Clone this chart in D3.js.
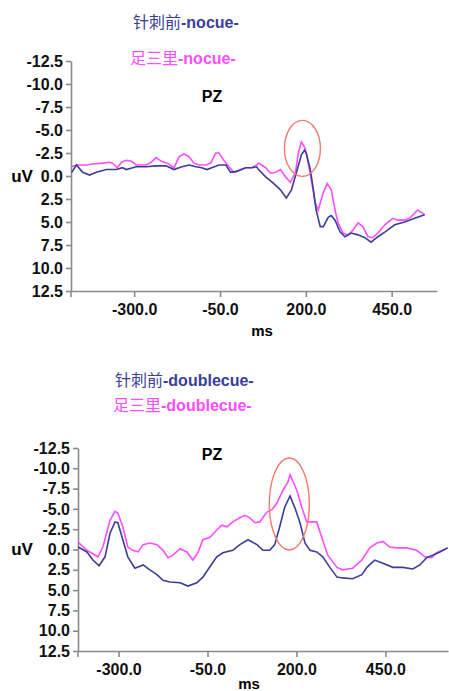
<!DOCTYPE html>
<html>
<head>
<meta charset="utf-8">
<script src="https://cdn.jsdelivr.net/npm/d3@7"></script>
<style>
  body { margin: 0; background: #fff; }
  text { font-family: "Liberation Sans", Arial, sans-serif; }
</style>
</head>
<body>
<div id="chart"></div>
<script>
var svgWidth = 449;
var svgHeight = 691;

// tick values
var yTicks = [-12.5, -10.0, -7.5, -5.0, -2.5, 0.0, 2.5, 5.0, 7.5, 10.0, 12.5];
var xTicks = [-300, -50, 200, 450];

// nocue: [ms, uV]
var nocueBlue = [[-482,-0.4],[-468,-1.2],[-450,-0.4],[-430,-0.1],[-410,-0.4],[-381,-0.7],[-352,-0.7],[-334,-0.9],
  [-323,-0.7],[-294,-1.0],[-265,-1.0],[-236,-1.1],[-207,-1.1],[-184,-0.7],[-161,-1.0],[-140,-1.2],[-120,-1.0],
  [-103,-0.9],[-88,-0.7],[-74,-0.9],[-53,-1.2],[-33,-1.2],[-19,-0.4],[-1,-0.5],[25,-0.9],[42,-0.9],[57,-1.0],
  [62,-0.7],[83,0.1],[106,0.8],[126,1.5],[143,2.4],[158,1.5],[172,-0.3],[187,-2.3],[196,-2.8],[201,-2.5],
  [213,-0.7],[222,1.5],[230,3.7],[242,5.5],[251,5.5],[265,4.5],[274,4.3],[285,4.8],[300,6.1],[314,6.6],
  [332,6.2],[352,6.4],[372,6.7],[390,7.2],[410,6.6],[430,6.1],[459,5.3],[488,5.0],[517,4.6],[546,4.2]];
var nocuePink = [[-482,-1.0],[-468,-1.2],[-439,-1.2],[-421,-1.3],[-392,-1.4],[-372,-1.5],[-363,-1.4],[-349,-0.9],
  [-337,-1.5],[-323,-1.7],[-308,-1.6],[-294,-1.2],[-265,-1.2],[-250,-1.5],[-236,-2.0],[-221,-1.6],[-204,-1.4],
  [-184,-0.9],[-169,-2.1],[-155,-2.4],[-140,-2.1],[-126,-1.4],[-111,-1.2],[-91,-1.2],[-77,-1.4],[-62,-2.5],
  [-53,-2.5],[-39,-1.7],[-24,-1.0],[-10,-0.4],[10,-0.7],[25,-0.9],[42,-0.9],[57,-1.2],[62,-1.4],[83,-0.9],
  [97,-0.3],[112,-0.4],[126,-0.7],[141,0.1],[155,0.7],[170,-0.4],[178,-2.5],[187,-3.7],[198,-3.0],[207,-1.4],
  [216,0.4],[227,2.9],[236,3.7],[251,1.8],[262,0.8],[274,1.5],[285,3.7],[294,5.1],[308,6.2],[323,6.4],
  [337,5.9],[352,5.1],[366,5.5],[381,6.6],[395,6.7],[410,6.2],[430,5.3],[453,4.6],[468,4.8],[488,4.8],
  [505,4.5],[526,3.7],[534,3.9],[546,4.2]];

// doublecue: [ms, uV]
var doubleBlue = [[-414,-0.3],[-389,0.3],[-372,1.3],[-355,2.0],[-338,0.9],[-324,-2.0],[-310,-3.4],[-302,-3.3],
  [-288,-1.2],[-274,0.9],[-254,2.3],[-231,1.9],[-212,2.5],[-192,3.1],[-175,3.8],[-156,4.0],[-127,4.1],
  [-105,4.5],[-80,4.1],[-63,3.4],[-49,2.5],[-24,0.9],[-7,0.4],[21,0.1],[41,-0.6],[64,-1.2],[89,-0.6],
  [106,0.1],[125,0.1],[139,-0.6],[153,-2.8],[167,-5.2],[182,-6.6],[196,-5.1],[210,-3.3],[224,-0.8],
  [238,0.1],[257,0.3],[274,0.9],[294,2.2],[314,3.4],[330,3.5],[358,3.6],[384,3.1],[398,2.2],[420,1.3],
  [443,1.7],[471,2.2],[499,2.2],[527,2.4],[547,1.9],[566,1.0],[583,0.7],[603,0.3],[625,-0.2]];
var doublePink = [[-414,-0.9],[-389,0.1],[-358,0.9],[-344,-0.3],[-324,-3.6],[-310,-4.7],[-302,-4.5],[-288,-2.8],
  [-274,-0.3],[-260,0.1],[-245,0.3],[-231,-0.6],[-212,-0.8],[-192,-0.6],[-175,0.1],[-161,1.0],[-147,0.7],
  [-127,-0.1],[-108,0.3],[-91,1.3],[-77,0.4],[-63,-1.2],[-43,-1.5],[-24,-2.4],[-10,-3.0],[5,-2.8],[21,-3.4],
  [41,-3.9],[55,-4.2],[69,-3.9],[83,-3.3],[97,-3.4],[117,-4.6],[131,-4.9],[145,-5.7],[162,-7.3],[176,-8.3],
  [182,-9.2],[201,-7.3],[215,-5.2],[229,-3.4],[243,-3.4],[257,-3.4],[271,-1.5],[288,0.7],[314,2.2],
  [330,2.5],[358,2.3],[384,1.3],[406,-0.2],[426,-0.8],[443,-1.0],[462,-0.3],[482,-0.2],[510,-0.2],
  [538,0.1],[561,0.9],[580,1.0],[594,0.4],[611,0.1],[625,-0.2]];

var blueColor = "#3b3d98";
var pinkColor = "#ff4dff";
var axisColor = "#8a8a8a";

// plain hyphen for negatives, like the original
var fmt = d3.formatLocale({decimal: ".", thousands: ",", grouping: [3], currency: ["", ""], minus: "-"}).format(".1f");

var svg = d3.select("#chart")
  .append("svg")
  .attr("width", svgWidth)
  .attr("height", svgHeight);

function drawPanel(p) {
  var x = d3.scaleLinear().domain(p.xDomain).range(p.xRange);
  var y = d3.scaleLinear().domain([-12.5, 12.5]).range(p.yRange);

  // legend
  var leg = [[p.blueLabel, blueColor, p.leg1], [p.pinkLabel, pinkColor, p.leg2]];
  leg.forEach(function (l) {
    var t = svg.append("text")
      .attr("x", l[2][0]).attr("y", l[2][1])
      .attr("fill", l[1])
      .style("font-size", "16px");
    t.append("tspan").style("font-family", "'Noto Sans CJK SC', sans-serif").text(l[0]);
    t.append("tspan").style("font-weight", "bold").text(p.suffix);
  });

  svg.append("text")
    .attr("x", p.pz[0]).attr("y", p.pz[1])
    .attr("text-anchor", "middle")
    .style("font-size", "16px").style("font-weight", "bold")
    .text("PZ");

  // y axis
  var yAxis = svg.append("g")
    .attr("transform", `translate(${p.xRange[0]},0)`)
    .call(d3.axisLeft(y).tickValues(yTicks).tickFormat(fmt).tickSize(5).tickSizeOuter(0).tickPadding(3));

  // x axis
  var xAxis = svg.append("g")
    .attr("transform", `translate(0,${p.yRange[1]})`)
    .call(d3.axisBottom(x).tickValues(xTicks).tickFormat(fmt).tickSize(6).tickSizeOuter(0).tickPadding(7));

  [yAxis, xAxis].forEach(function (a) {
    a.select(".domain").attr("stroke", axisColor).attr("stroke-width", 1.6);
    a.selectAll(".tick line").attr("stroke", axisColor).attr("stroke-width", 1.6);
    a.selectAll(".tick text")
      .attr("fill", "#111")
      .style("font-size", "16px").style("font-weight", "bold")
      .style("font-family", "'Liberation Sans', Arial, sans-serif");
  });
  // axis corner stub below origin
  svg.append("line")
    .attr("x1", p.xRange[0]).attr("x2", p.xRange[0])
    .attr("y1", p.yRange[1]).attr("y2", p.yRange[1] + 6)
    .attr("stroke", axisColor).attr("stroke-width", 1.6);

  svg.append("text")
    .attr("x", 22).attr("y", y(0)).attr("dy", "0.35em")
    .attr("text-anchor", "middle")
    .style("font-size", "17px").style("font-weight", "bold")
    .text("uV");

  svg.append("text")
    .attr("x", p.ms[0]).attr("y", p.ms[1])
    .attr("text-anchor", "middle")
    .style("font-size", "15px").style("font-weight", "bold")
    .text("ms");

  var line = d3.line()
    .x(d => x(d[0]))
    .y(d => y(d[1]));

  svg.append("path")
    .datum(p.pink)
    .attr("d", line)
    .attr("fill", "none")
    .attr("stroke", pinkColor)
    .attr("stroke-width", 1.6);

  svg.append("path")
    .datum(p.blue)
    .attr("d", line)
    .attr("fill", "none")
    .attr("stroke", blueColor)
    .attr("stroke-width", 1.6);

  // highlight ellipse round the peak
  svg.append("ellipse")
    .attr("cx", x(p.ellipse[0])).attr("cy", y(p.ellipse[1]))
    .attr("rx", p.ellipse[2]).attr("ry", p.ellipse[3])
    .attr("fill", "none")
    .attr("stroke", "#f07a6e")
    .attr("stroke-width", 1.4);
}

drawPanel({
  xDomain: [-484, 582], xRange: [71, 437], yRange: [61, 291],
  blue: nocueBlue, pink: nocuePink,
  blueLabel: "针刺前", pinkLabel: "足三里", suffix: "-nocue-",
  leg1: [133, 28], leg2: [130, 64], pz: [212, 102], ms: [262, 336],
  ellipse: [190, -3.0, 18, 28]
});

drawPanel({
  xDomain: [-414, 626], xRange: [78, 448], yRange: [448, 651],
  blue: doubleBlue, pink: doublePink,
  blueLabel: "针刺前", pinkLabel: "足三里", suffix: "-doublecue-",
  leg1: [115, 386], leg2: [113, 411], pz: [212, 460], ms: [249, 689],
  ellipse: [180, -5.6, 20, 46]
});
</script>
</body>
</html>
